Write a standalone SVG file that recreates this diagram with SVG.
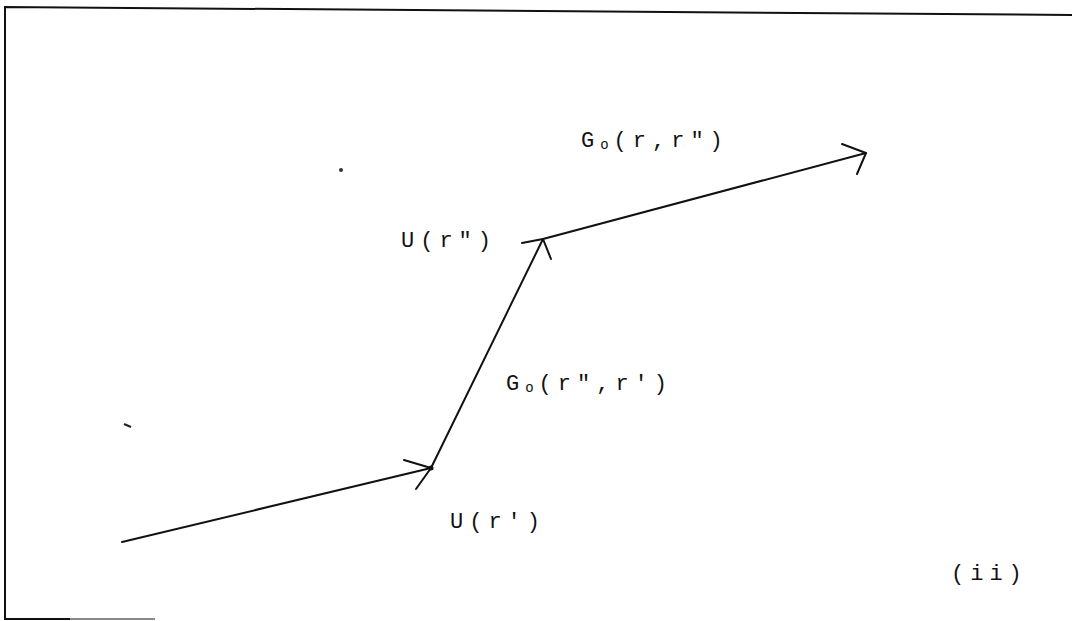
<svg xmlns="http://www.w3.org/2000/svg" width="1072" height="621" viewBox="0 0 1072 621">
  <style>
    .lbl { font-family: "Liberation Mono", "DejaVu Sans Mono", monospace; font-size: 22px; fill: #111; letter-spacing: 6px; }
    .sub { font-size: 14px; letter-spacing: 5px; }
    .ln { stroke: #111; stroke-width: 2; fill: none; stroke-linecap: round; stroke-linejoin: round; }
    .frame { stroke: #111; stroke-width: 2; fill: none; }
  </style>
  <rect x="0" y="0" width="1072" height="621" fill="#fff"/>
  <g id="frame">
    <polyline class="frame" points="1072,15 5,7 5,619 70,619"/>
    <line x1="70" y1="619" x2="155" y2="619" stroke="#888" stroke-width="2"/>
  </g>
  <g id="connectors">
    <line class="ln" x1="122" y1="542" x2="431" y2="468"/>
    <polyline class="ln" points="404,460 431,468 416,489"/>
    <line class="ln" x1="431" y1="468" x2="543" y2="239"/>
    <polyline class="ln" points="522,243 543,239 551,259"/>
    <line class="ln" x1="543" y1="239" x2="866" y2="153"/>
    <polyline class="ln" points="842,144 866,153 857,174"/>
    <circle cx="431" cy="468" r="2.5" fill="#111"/>
  </g>
  <g id="label-G0-r-r2"><text class="lbl" x="581" y="147">G<tspan class="sub" dy="2">o</tspan><tspan dy="-2">(r,r")</tspan></text></g>
  <g id="label-U-r2"><text class="lbl" x="401" y="247">U(r")</text></g>
  <g id="label-G0-r2-r1"><text class="lbl" x="506" y="390">G<tspan class="sub" dy="2">o</tspan><tspan dy="-2">(r",r')</tspan></text></g>
  <g id="label-U-r1"><text class="lbl" x="450" y="528">U(r')</text></g>
  <g id="label-ii"><text class="lbl" x="951" y="580">(ii)</text></g>
  <g id="specks" fill="#333">
    <circle cx="341" cy="170" r="2"/>
    <line x1="124" y1="424" x2="131" y2="427" stroke="#222" stroke-width="2"/>
  </g>
</svg>
